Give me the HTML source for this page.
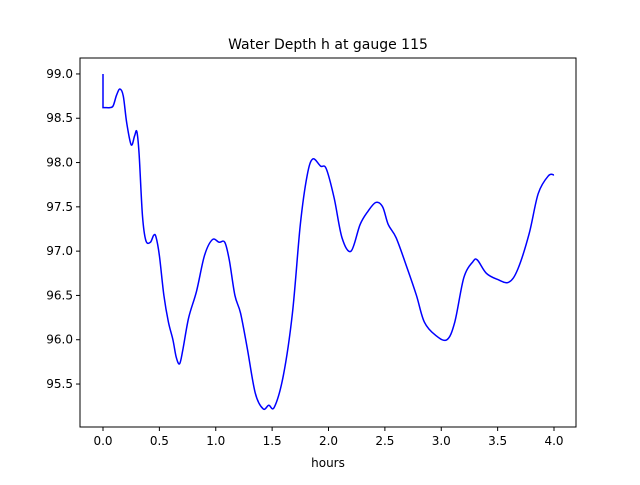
<!DOCTYPE html>
<html><head><meta charset="utf-8"><style>
body{margin:0;background:#fff}
svg text{font-family:"DejaVu Sans","Liberation Sans",sans-serif;fill:#000}
</style></head><body>
<svg width="640" height="480" viewBox="0 0 640 480">
<rect width="640" height="480" fill="#fff"/>
<text x="328" y="49" font-size="14" text-anchor="middle">Water Depth h at gauge 115</text>
<g id="series"></g>
<rect x="80" y="58" width="496" height="369" fill="none" stroke="#000" stroke-width="1"/>
<g id="xaxis"></g><g id="yaxis"></g>
<text x="328" y="467" font-size="12" text-anchor="middle">hours</text>
</svg>
<script>
const times=[0,0,0.02,0.06,0.09,0.12,0.15,0.18,0.21,0.25,0.28,0.3,0.32,0.35,0.38,0.42,0.45,0.47,0.5,0.54,0.58,0.62,0.65,0.68,0.71,0.76,0.83,0.9,0.97,1.03,1.08,1.12,1.17,1.22,1.28,1.35,1.42,1.47,1.52,1.6,1.68,1.75,1.81,1.86,1.93,1.98,2.05,2.12,2.2,2.28,2.35,2.42,2.48,2.53,2.6,2.7,2.78,2.85,2.95,3.05,3.12,3.2,3.28,3.32,3.4,3.5,3.6,3.68,3.78,3.86,3.95,4.0];
const depths=[99.0,98.62,98.62,98.62,98.64,98.76,98.83,98.75,98.45,98.2,98.3,98.35,98.1,97.4,97.12,97.1,97.18,97.16,96.95,96.5,96.2,96.0,95.8,95.73,95.9,96.25,96.55,96.95,97.13,97.1,97.1,96.9,96.5,96.3,95.9,95.4,95.22,95.26,95.24,95.6,96.3,97.3,97.85,98.04,97.96,97.93,97.6,97.15,97.0,97.3,97.45,97.55,97.5,97.3,97.15,96.8,96.5,96.2,96.05,96.0,96.2,96.7,96.88,96.9,96.75,96.68,96.65,96.8,97.2,97.65,97.85,97.86];
const xTicks=[0,0.5,1,1.5,2,2.5,3,3.5,4];
const xTickLabels=["0.0","0.5","1.0","1.5","2.0","2.5","3.0","3.5","4.0"];
const yTicks=[95.5,96,96.5,97,97.5,98,98.5,99];
const yTickLabels=["95.5","96.0","96.5","97.0","97.5","98.0","98.5","99.0"];
const X0=80,X1=576,Y0=58,Y1=427,xmin=-0.204,xmax=4.195,ymin=95.015,ymax=99.18;
function sx(t){return X0+(t-xmin)/(xmax-xmin)*(X1-X0);}
function sy(v){return Y1-(v-ymin)/(ymax-ymin)*(Y1-Y0);}
const NS="http://www.w3.org/2000/svg";
const pts=times.map((t,i)=>[sx(t),sy(depths[i])]);
let d="M"+pts[0][0]+","+pts[0][1]+" L"+pts[1][0]+","+pts[1][1];
for(let i=1;i<pts.length-1;i++){
 const p0=pts[Math.max(i-1,1)],p1=pts[i],p2=pts[i+1],p3=pts[Math.min(i+2,pts.length-1)];
 const c1=[p1[0]+(p2[0]-p0[0])/6,p1[1]+(p2[1]-p0[1])/6];
 const c2=[p2[0]-(p3[0]-p1[0])/6,p2[1]-(p3[1]-p1[1])/6];
 d+=" C"+c1[0]+","+c1[1]+" "+c2[0]+","+c2[1]+" "+p2[0]+","+p2[1];
}
const path=document.createElementNS(NS,"path");


path.setAttribute("d",d);path.setAttribute("fill","none");path.setAttribute("stroke","#0000ff");path.setAttribute("stroke-width","1.5");
document.getElementById("series").appendChild(path);
const xa=document.getElementById("xaxis");
xTicks.forEach((t,i)=>{
 const l=document.createElementNS(NS,"line");
 
 
 l.setAttribute("x1",sx(t));l.setAttribute("x2",sx(t));l.setAttribute("y1",Y1);l.setAttribute("y2",Y1+4);l.setAttribute("stroke","#000");
 xa.appendChild(l);
 const tx=document.createElementNS(NS,"text");
 
 
 tx.setAttribute("x",sx(t));tx.setAttribute("y",Y1+18);tx.setAttribute("font-size","12");tx.setAttribute("text-anchor","middle");
 tx.textContent=xTickLabels[i];xa.appendChild(tx);
});
const ya=document.getElementById("yaxis");
yTicks.forEach((v,i)=>{
 const l=document.createElementNS(NS,"line");
 
 
 l.setAttribute("x1",X0-4);l.setAttribute("x2",X0);l.setAttribute("y1",sy(v));l.setAttribute("y2",sy(v));l.setAttribute("stroke","#000");
 ya.appendChild(l);
 const tx=document.createElementNS(NS,"text");
 
 
 tx.setAttribute("x",X0-7);tx.setAttribute("y",sy(v)+4);tx.setAttribute("font-size","12");tx.setAttribute("text-anchor","end");
 tx.textContent=yTickLabels[i];ya.appendChild(tx);
});
</script>
</body></html>
